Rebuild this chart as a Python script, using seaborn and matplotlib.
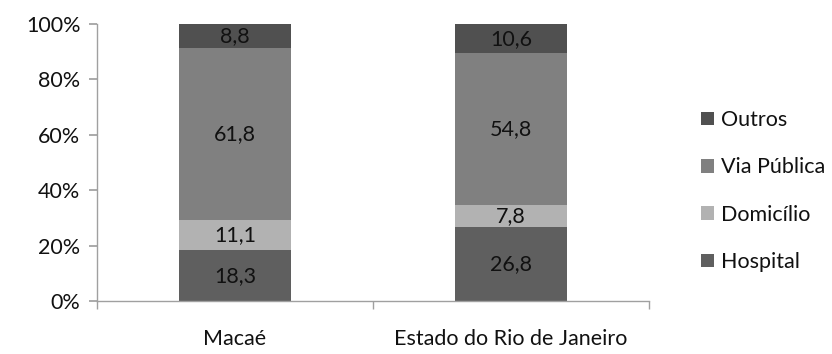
import matplotlib
matplotlib.use("Agg")
import matplotlib.pyplot as plt
import seaborn as sns
import pandas as pd
import numpy as np
from matplotlib.patches import Patch

locais = ["Macaé", "Estado do Rio de Janeiro"]
categorias = ["Hospital", "Domicílio", "Via Pública", "Outros"]
hospital = [18.3, 26.8]
domicilio = [11.1, 7.8]
via_publica = [61.8, 54.8]
outros = [8.8, 10.6]
cores = {"Hospital": "#5f5f5f", "Domicílio": "#b2b2b2", "Via Pública": "#808080", "Outros": "#505050"}

sns.set_theme(style="white")
plt.rcParams['font.family'] = ['Lato', 'DejaVu Sans']
FS = 15.5
TXT = "#111111"

series = {"Hospital": hospital, "Domicílio": domicilio, "Via Pública": via_publica, "Outros": outros}
rows = []
for i, loc in enumerate(locais):
    cum = 0
    for cat in categorias:
        v = series[cat][i]
        rows.append({"local": loc, "cat": cat, "valor": v, "base": cum, "topo": cum + v})
        cum += v
df = pd.DataFrame(rows)

fig = plt.figure(figsize=(8.32, 3.54), dpi=100)
ax = fig.add_axes([97/832, 1 - 301/354, (649 - 97)/832, (301 - 24)/354])

# draw cumulative layers from top down
for cat in reversed(categorias):
    sub = df[df.cat == cat]
    sns.barplot(data=sub, x="local", y="topo", order=locais, color=cores[cat],
                width=0.405, saturation=1, ax=ax, linewidth=0, edgecolor="none")

for _, r in df.iterrows():
    xi = locais.index(r["local"])
    ax.text(xi, (r["base"] + r["topo"]) / 2, f"{r['valor']:.1f}".replace(".", ","),
            ha="center", va="center", fontsize=FS, color=TXT)

ax.set_ylim(0, 100)
ax.set_xlim(-0.5, 1.5)
ax.set_yticks([0, 20, 40, 60, 80, 100])
ax.set_yticklabels([f"{t}%" for t in [0, 20, 40, 60, 80, 100]])
ax.set_xlabel("")
ax.set_ylabel("")
for s in ["top", "right"]:
    ax.spines[s].set_visible(False)
for s in ["left", "bottom"]:
    ax.spines[s].set_color("#a0a0a0")
    ax.spines[s].set_linewidth(1)
ax.tick_params(axis="y", left=True, length=6, color="#a0a0a0", labelsize=FS, pad=6, labelcolor=TXT)
ax.set_xticks([0, 1])
ax.set_xticklabels(locais)
ax.set_xticks([-0.5, 0.5, 1.5], minor=True)
ax.tick_params(axis="x", which="major", bottom=False, labelsize=FS, pad=14, labelcolor=TXT)
ax.tick_params(axis="x", which="minor", bottom=True, length=6, color="#a0a0a0")

handles = [Patch(facecolor=cores[c], edgecolor="none", label=c) for c in reversed(categorias)]
leg = fig.legend(handles=handles, loc="center left", bbox_to_anchor=(690/832, 1 - 191/354),
           frameon=False, fontsize=FS, handlelength=0.6, handleheight=0.6,
           handletextpad=0.35, labelspacing=1.27, borderpad=0)
for t in leg.get_texts():
    t.set_color(TXT)

fig.savefig("out.png", dpi=100, facecolor="white")
